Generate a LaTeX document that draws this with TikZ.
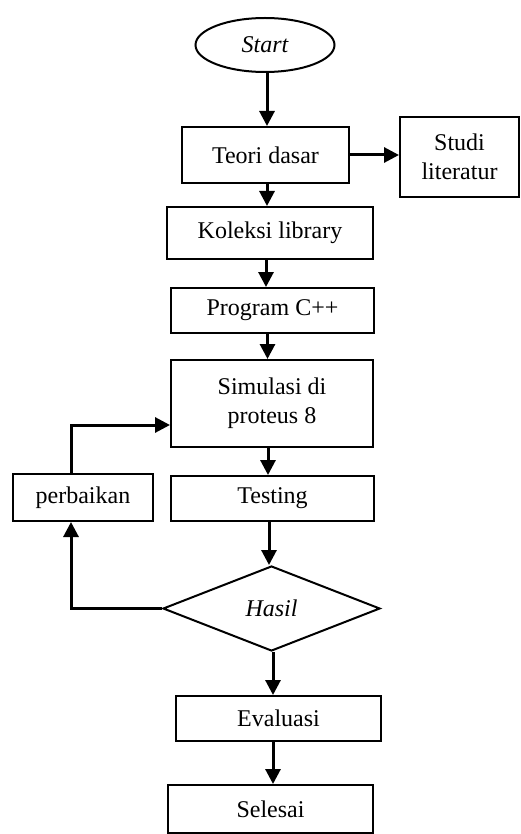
\documentclass[tikz,border=0pt]{standalone}
\usepackage{fontspec}
\setmainfont{Liberation Serif}
\usetikzlibrary{arrows.meta,shapes.geometric}
\begin{document}
\begin{tikzpicture}[x=1pt,y=-1pt,
  every node/.style={font=\fontsize{24}{29}\selectfont, inner sep=0pt, text=black},
  box/.style={draw, line width=2pt, rectangle, align=center},
  conn/.style={line width=3pt, -{Triangle[length=15pt,width=15pt]}}]
\useasboundingbox (0,0) rectangle (521,834);
\node[draw, line width=2pt, ellipse, minimum width=139pt, minimum height=54pt] (start) at (265,45) {\itshape Start};
\node[box, minimum width=167pt, minimum height=56pt] (teori) at (265.5,155) {Teori dasar};
\node[box, minimum width=119pt, minimum height=80pt, text depth=0pt] (studi) at (459.5,157) {Studi\\literatur};
\node[box, minimum width=206pt, minimum height=52pt] (koleksi) at (270,233) {Koleksi library};
\node[box, minimum width=203pt, minimum height=45pt] (program) at (272.5,310.5) {Program C++};
\node[box, minimum width=202pt, minimum height=87pt] (simulasi) at (272,403.5) {Simulasi di\\proteus 8};
\node[box, minimum width=140pt, minimum height=47pt] (perbaikan) at (83,497.5) {perbaikan};
\node[box, minimum width=203pt, minimum height=45pt] (testing) at (272.5,498.5) {Testing};
\node[draw, line width=2pt, diamond, aspect=2.55, minimum width=217pt, minimum height=85pt] (hasil) at (271.5,608.5) {\itshape Hasil};
\node[box, minimum width=205pt, minimum height=45pt] (evaluasi) at (278.5,718.5) {Evaluasi};
\node[box, minimum width=205pt, minimum height=48pt] (selesai) at (270.5,809) {Selesai};

\draw[conn] ([xshift=2pt]start.south) -- ([xshift=2pt]start.south |- teori.north);
\draw[conn] (teori.east) -- (teori.east -| studi.west);
\draw[conn] ([xshift=1.5pt]teori.south) -- ([xshift=1.5pt]teori.south |- koleksi.north);
\draw[conn] ([xshift=-4pt]koleksi.south) -- ([xshift=-4pt]koleksi.south |- program.north);
\draw[conn] ([xshift=-5pt]program.south) -- ([xshift=-5pt]program.south |- simulasi.north);
\draw[conn] ([xshift=-4pt]simulasi.south) -- ([xshift=-4pt]simulasi.south |- testing.north);
\draw[conn] ([xshift=-3.5pt]testing.south) -- ([xshift=-3.5pt]testing.south |- hasil.north);
\draw[conn] ([xshift=1.5pt]hasil.south) -- ([xshift=1.5pt]hasil.south |- evaluasi.north);
\draw[conn] ([xshift=-5.5pt]evaluasi.south) -- ([xshift=-5.5pt]evaluasi.south |- selesai.north);
\draw[conn] (hasil.west) -| ([xshift=-12pt]perbaikan.south);
\draw[conn] ([xshift=-12pt]perbaikan.north) |- ([yshift=-21.5pt]simulasi.west);
\end{tikzpicture}
\end{document}
